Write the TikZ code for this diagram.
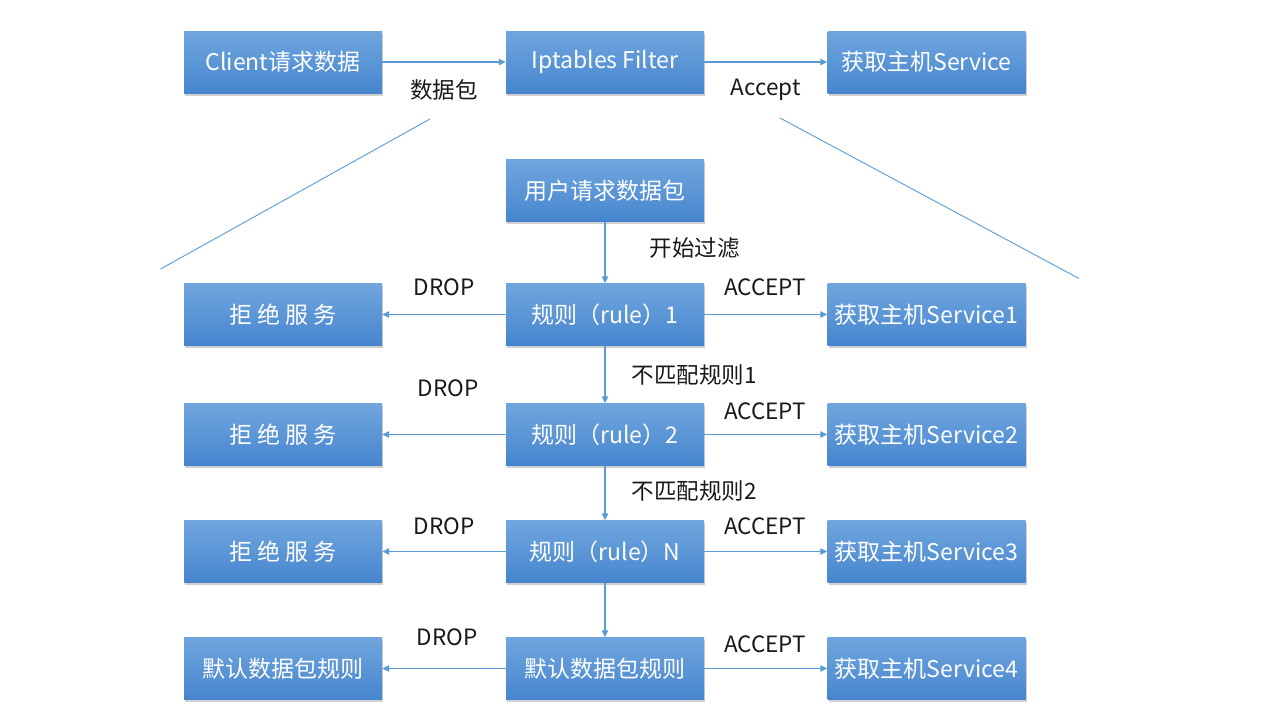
\documentclass[tikz,border=0pt]{standalone}
\usepackage{fontspec}
\setmainfont{Noto Sans CJK SC}
\usepackage{xcolor}
\usepackage{tikz}
\usetikzlibrary{positioning,calc,shadows,arrows.meta}

\definecolor{boxtop}{RGB}{112,166,222}
\definecolor{boxbot}{RGB}{70,133,206}
\definecolor{linkblue}{RGB}{91,155,213}

\tikzset{
  blockbox/.style={draw=none, top color=boxtop, bottom color=boxbot,
    minimum width=198pt, minimum height=62pt, inner sep=0pt,
    text=white, font=\fontsize{23}{27}\selectfont,
    drop shadow={shadow xshift=1pt, shadow yshift=-2.5pt, opacity=0.3, fill=black!60}},
  flowline/.style={draw=linkblue, line width=1.4pt, -{Triangle[length=7pt,width=6.5pt]}},
  thinline/.style={draw=linkblue, line width=0.9pt},
  lbl/.style={text=black!90, font=\fontsize{22.5}{26}\selectfont, inner sep=0pt}
}

\begin{document}
\begin{tikzpicture}[x=1pt,y=-1pt]
  \def\L{283}
  \def\M{605}
  \def\R{926.5}

  \useasboundingbox[fill=white] (0,0) rectangle (1280,720);

  % top row
  \node[blockbox] (client)  at (\L,62) {Client请求数据};
  \node[blockbox] (filter)  at (\M,62) {Iptables Filter};
  \node[blockbox] (hostsvc) at (\R,62) {获取主机Service};
  \draw[flowline] (client) -- (filter);
  \draw[flowline] (filter) -- (hostsvc);
  \node[lbl] (lpkt)    at (444,90)   {数据包};
  \node[lbl] (laccept) at (765.5,90) {Accept};

  % zoom lines
  \coordinate (zlA) at (430,119);
  \coordinate (zlB) at (160.5,269);
  \coordinate (zrA) at (780,118);
  \coordinate (zrB) at (1079,278.5);
  \draw[thinline] (zlA) -- (zlB);
  \draw[thinline] (zrA) -- (zrB);

  % filter chain
  \node[blockbox] (userpkt) at (\M,190.5) {用户请求数据包};
  \node[blockbox] (rule1) at (\M,314.5) {规则（rule）1};
  \node[blockbox] (rule2) at (\M,434.5) {规则（rule）2};
  \node[blockbox] (ruleN) at (\M,551.5) {规则（rule）N};
  \node[blockbox] (dflt)  at (\M,668.5) {默认数据包规则};

  \node[blockbox] (drop1) at (\L,314.5) {拒 绝 服 务};
  \node[blockbox] (drop2) at (\L,434.5) {拒 绝 服 务};
  \node[blockbox] (drop3) at (\L,551.5) {拒 绝 服 务};
  \node[blockbox] (drop4) at (\L,668.5) {默认数据包规则};

  \node[blockbox] (svc1) at (\R,314.5) {获取主机Service1};
  \node[blockbox] (svc2) at (\R,434.5) {获取主机Service2};
  \node[blockbox] (svc3) at (\R,551.5) {获取主机Service3};
  \node[blockbox] (svc4) at (\R,668.5) {获取主机Service4};

  \draw[flowline] (userpkt) -- (rule1);
  \draw[flowline] (rule1) -- (rule2);
  \draw[flowline] (rule2) -- (ruleN);
  \draw[flowline] (ruleN) -- (dflt);

  \foreach \r/\d/\s in {rule1/drop1/svc1, rule2/drop2/svc2, ruleN/drop3/svc3, dflt/drop4/svc4}{
    \draw[flowline] (\r) -- (\d);
    \draw[flowline] (\r) -- (\s);
  }

  \node[lbl] (lstart) at (694.5,248) {开始过滤};
  \node[lbl] (lmiss1) at (694,375)   {不匹配规则1};
  \node[lbl] (lmiss2) at (694,491)   {不匹配规则2};

  \node[lbl] (ldrop1) at (444,287) {DROP};
  \node[lbl] (ldrop2) at (448,388) {DROP};
  \node[lbl] (ldrop3) at (444,526) {DROP};
  \node[lbl] (ldrop4) at (447,637) {DROP};

  \node[lbl] (lacc1) at (765,287) {ACCEPT};
  \node[lbl] (lacc2) at (765,411) {ACCEPT};
  \node[lbl] (lacc3) at (765,526) {ACCEPT};
  \node[lbl] (lacc4) at (765,644) {ACCEPT};
\end{tikzpicture}
\end{document}
